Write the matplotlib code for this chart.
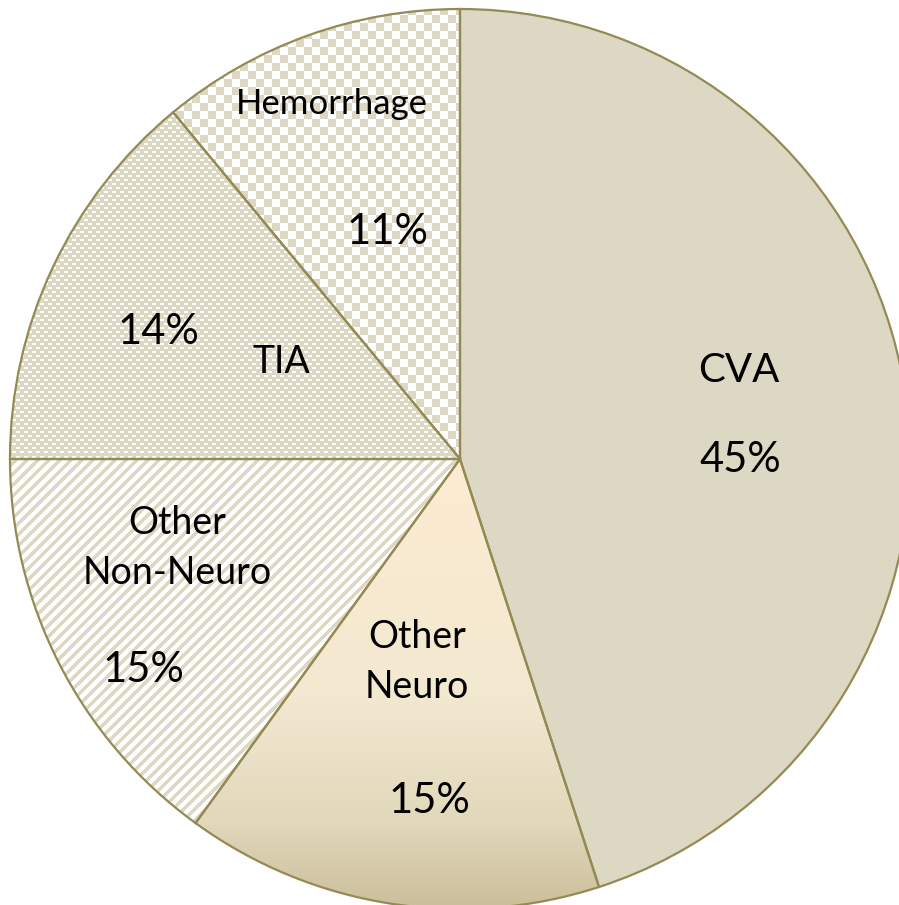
import numpy as np
import matplotlib
matplotlib.use("Agg")
import matplotlib.pyplot as plt
from matplotlib.colors import to_rgb

# ─── Data ─────────────────────────────────────────────────────────────────────
categories = ["CVA", "Other\nNeuro", "Other\nNon-Neuro", "TIA", "Hemorrhage"]
shares = [45, 15, 15, 14, 11]
pct_labels = ["45%", "15%", "15%", "14%", "11%"]

# ─── Style ────────────────────────────────────────────────────────────────────
W, H = 899, 905
TAN = "#ddd8c4"
EDGE = "#948a54"
FONT = "Lato"
plt.rcParams["font.family"] = [FONT, "DejaVu Sans"]

# label layout (pixel coords from top-left): (name_xy, name_size, pct_xy)
label_layout = [
    ((739, 371), 29, (740, 460)),
    ((417, 662), 27, (429, 801)),
    ((177, 548), 27, (143, 670)),
    ((281, 362), 27, (158, 332)),
    ((332, 104), 25, (388, 232)),
]


def pattern_image(kind):
    yy, xx = np.mgrid[0:H, 0:W]
    tan = np.array(to_rgb(TAN))
    white = np.ones(3)
    if kind == "checker":
        mask = ((xx // 8) + (yy // 8)) % 2 == 0
    elif kind == "dash":
        row = yy % 8
        col = xx % 8
        mask = ~(((row < 2) & (col < 4)) | ((row >= 4) & (row < 6) & (col >= 4)))
    elif kind == "diag":
        mask = ((xx + yy) % 11) < 5
    else:
        mask = np.ones((H, W), bool)
    img = np.where(mask[..., None], tan, white)
    return img


def gradient_image():
    ys = np.arange(H)
    stops_y = [459, 700, 820, 905]
    stops_c = [to_rgb(c) for c in ["#fdecd0", "#f2e8d0", "#e2d8bb", "#cbbf9b"]]
    img = np.zeros((H, W, 3))
    for k in range(3):
        col = np.interp(ys, stops_y, [c[k] for c in stops_c])
        img[:, :, k] = col[:, None]
    return img


fig = plt.figure(figsize=(W / 100, H / 100), dpi=100)
fig.patch.set_facecolor("white")
ax = fig.add_axes([0, 0, 1, 1])
ax.set_xlim(0, W)
ax.set_ylim(0, H)
ax.set_aspect("equal")
ax.axis("off")

center = (460, H - 459)
radius = 450

wedges, _ = ax.pie(shares, startangle=90, counterclock=False, center=center,
                   radius=radius, colors=[TAN, "white", "white", "white", "white"],
                   wedgeprops=dict(linewidth=0))

fills = [None, gradient_image(), pattern_image("diag"),
         pattern_image("dash"), pattern_image("checker")]
for w, img in zip(wedges, fills):
    if img is None:
        continue
    im = ax.imshow(img, extent=(0, W, 0, H), origin="upper",
                   interpolation="nearest", zorder=2)
    im.set_clip_path(w)

# outlines on top
ax.pie(shares, startangle=90, counterclock=False, center=center, radius=radius,
       colors=["none"] * len(shares),
       wedgeprops=dict(linewidth=1.6, edgecolor=EDGE))
for w in ax.patches[len(wedges):]:
    w.set_zorder(3)

ax.set_xlim(0, W)
ax.set_ylim(0, H)

for name, pct, (nxy, nsize, pxy) in zip(categories, pct_labels, label_layout):
    ax.text(nxy[0], H - nxy[1], name, ha="center", va="center",
            fontsize=nsize, color="black", linespacing=1.5, zorder=5)
    ax.text(pxy[0], H - pxy[1], pct, ha="center", va="center",
            fontsize=30, color="black", zorder=5)

fig.savefig("out.png", dpi=100)
